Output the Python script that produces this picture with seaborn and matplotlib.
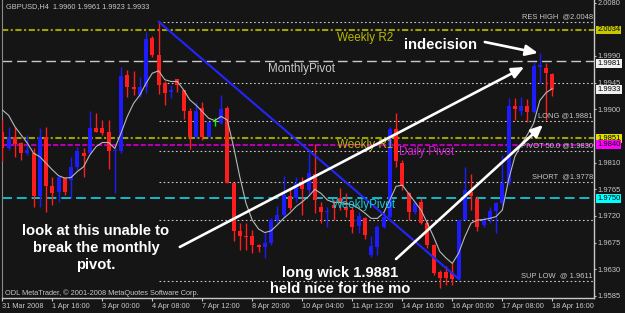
import numpy as np
import pandas as pd
import matplotlib
matplotlib.use("Agg")
import matplotlib.pyplot as plt
import matplotlib.transforms as mtransforms
import seaborn as sns

# ---------------- data ----------------
opens = [1.9861, 1.9834, 1.9853, 1.9843, 1.9827, 1.9826, 1.9753, 1.9853, 1.9770, 1.9761,
         1.9784, 1.9780, 1.9803, 1.9827, 1.9827, 1.9868, 1.9868, 1.9861, 1.9829, 1.9829,
         1.9958, 1.9938, 1.9924, 1.9938, 2.0020, 1.9992, 1.9944, 1.9929, 1.9951, 1.9932,
         1.9898, 1.9854, 1.9902, 1.9854, 1.9879, 1.9877, 1.9903, 1.9775, 1.9695, 1.9686,
         1.9686, 1.9671, 1.9667, 1.9675, 1.9713, 1.9722, 1.9753, 1.9750, 1.9776, 1.9764,
         1.9791, 1.9736, 1.9726, 1.9739, 1.9750, 1.9736, 1.9730, 1.9703, 1.9716, 1.9654,
         1.9668, 1.9702, 1.9719, 1.9866, 1.9810, 1.9758, 1.9726, 1.9744, 1.9708, 1.9671,
         1.9626, 1.9626, 1.9623, 1.9613, 1.9713, 1.9761, 1.9748, 1.9704, 1.9714, 1.9729,
         1.9742, 1.9775, 1.9905, 1.9897, 1.9905, 1.9896, 1.9972, 1.9970, 1.9960]
highs = [1.9882, 1.9870, 1.9871, 1.9845, 1.9857, 1.9834, 1.9868, 1.9871, 1.9786, 1.9786,
         1.9786, 1.9820, 1.9837, 1.9834, 1.9898, 1.9893, 1.9882, 1.9882, 1.9834, 1.9972,
         1.9966, 1.9964, 1.9955, 2.0031, 2.0023, 2.0048, 1.9947, 1.9941, 1.9952, 1.9933,
         1.9902, 1.9913, 1.9913, 1.9879, 1.9885, 1.9924, 1.9906, 1.9776, 1.9708, 1.9709,
         1.9697, 1.9673, 1.9691, 1.9716, 1.9737, 1.9788, 1.9767, 1.9786, 1.9786, 1.9826,
         1.9842, 1.9744, 1.9736, 1.9747, 1.9767, 1.9758, 1.9736, 1.9727, 1.9719, 1.9686,
         1.9705, 1.9727, 1.9871, 1.9893, 1.9815, 1.9761, 1.9744, 1.9750, 1.9711, 1.9673,
         1.9629, 1.9635, 1.9641, 1.9714, 1.9803, 1.9791, 1.9753, 1.9719, 1.9736, 1.9744,
         1.9823, 1.9919, 1.9919, 1.9920, 1.9917, 1.9980, 1.9995, 1.9978, 1.9961]
lows = [1.9812, 1.9831, 1.9820, 1.9815, 1.9823, 1.9736, 1.9736, 1.9727, 1.9739, 1.9744,
        1.9755, 1.9750, 1.9798, 1.9786, 1.9826, 1.9861, 1.9857, 1.9800, 1.9758, 1.9826,
        1.9921, 1.9924, 1.9921, 1.9927, 1.9989, 1.9926, 1.9907, 1.9919, 1.9930, 1.9883,
        1.9833, 1.9851, 1.9849, 1.9853, 1.9872, 1.9875, 1.9775, 1.9677, 1.9663, 1.9663,
        1.9657, 1.9660, 1.9649, 1.9671, 1.9708, 1.9719, 1.9730, 1.9744, 1.9722, 1.9755,
        1.9725, 1.9708, 1.9702, 1.9713, 1.9730, 1.9719, 1.9691, 1.9691, 1.9682, 1.9650,
        1.9654, 1.9699, 1.9716, 1.9803, 1.9764, 1.9713, 1.9723, 1.9707, 1.9666, 1.9621,
        1.9598, 1.9604, 1.9604, 1.9612, 1.9713, 1.9730, 1.9694, 1.9702, 1.9708, 1.9691,
        1.9739, 1.9772, 1.9882, 1.9890, 1.9879, 1.9893, 1.9944, 1.9882, 1.9923]
closes = [1.9834, 1.9853, 1.9842, 1.9826, 1.9831, 1.9754, 1.9853, 1.9770, 1.9758, 1.9785,
          1.9761, 1.9803, 1.9829, 1.9821, 1.9868, 1.9862, 1.9860, 1.9830, 1.9831, 1.9957,
          1.9937, 1.9935, 1.9938, 2.0018, 1.9992, 1.9941, 1.9928, 1.9932, 1.9941, 1.9898,
          1.9854, 1.9898, 1.9853, 1.9878, 1.9879, 1.9900, 1.9776, 1.9695, 1.9686, 1.9684,
          1.9671, 1.9668, 1.9674, 1.9713, 1.9722, 1.9756, 1.9734, 1.9776, 1.9765, 1.9792,
          1.9747, 1.9726, 1.9729, 1.9733, 1.9744, 1.9730, 1.9702, 1.9720, 1.9688, 1.9669,
          1.9702, 1.9719, 1.9866, 1.9812, 1.9771, 1.9727, 1.9742, 1.9708, 1.9671, 1.9623,
          1.9615, 1.9615, 1.9613, 1.9713, 1.9764, 1.9753, 1.9702, 1.9715, 1.9729, 1.9742,
          1.9776, 1.9906, 1.9900, 1.9906, 1.9896, 1.9973, 1.9974, 1.9961, 1.9933]
ma_values = [1.9899, 1.9890, 1.9871, 1.9857, 1.9843, 1.9826, 1.9820, 1.9809, 1.9798, 1.9788,
             1.9784, 1.9785, 1.9795, 1.9803, 1.9823, 1.9837, 1.9844, 1.9844, 1.9834, 1.9860,
             1.9888, 1.9910, 1.9924, 1.9944, 1.9961, 1.9965, 1.9950, 1.9947, 1.9947, 1.9933,
             1.9916, 1.9907, 1.9896, 1.9885, 1.9881, 1.9888, 1.9882, 1.9837, 1.9786, 1.9741,
             1.9713, 1.9698, 1.9692, 1.9695, 1.9705, 1.9716, 1.9725, 1.9736, 1.9744, 1.9753,
             1.9765, 1.9758, 1.9747, 1.9743, 1.9743, 1.9741, 1.9739, 1.9733, 1.9725, 1.9716,
             1.9716, 1.9725, 1.9747, 1.9770, 1.9772, 1.9758, 1.9744, 1.9730, 1.9708, 1.9685,
             1.9660, 1.9649, 1.9640, 1.9657, 1.9685, 1.9708, 1.9713, 1.9714, 1.9716, 1.9719,
             1.9730, 1.9781, 1.9820, 1.9840, 1.9857, 1.9876, 1.9915, 1.9928, 1.9935]

date_tick_bars = [0, 8, 16, 24, 32, 40, 48, 56, 64, 72, 80, 88]
date_labels = ["31 Mar 2008", "1 Apr 16:00", "3 Apr 00:00", "4 Apr 08:00", "7 Apr 12:00",
               "8 Apr 20:00", "10 Apr 04:00", "11 Apr 12:00", "14 Apr 16:00", "16 Apr 00:00",
               "17 Apr 08:00", "18 Apr 16:00"]
price_ticks = [2.0080, 1.9990, 1.9945, 1.9900, 1.9810, 1.9765, 1.9720, 1.9675, 1.9630, 1.9585]

fib_start_bar = 25
fib_levels = [2.0048, 1.9944, 1.9881, 1.9830, 1.9778, 1.9713, 1.9611]
fib_labels = ["RES HIGH  @2.0048", "", "LONG @1.9881", "PIVOT 50.0 @1.9830",
              "SHORT  @1.9778", "", "SUP LOW  @ 1.9611"]

weekly_r2 = 2.0034
monthly_pivot = 1.9981
weekly_r1 = 1.9851
daily_pivot = 1.9840
weekly_pivot = 1.9750
last_close = 1.9933

trend_bars = [25, 73]
trend_prices = [2.0048, 1.9614]

# ---------------- style ----------------
BG = "#151515"
FG = "#c8c8c8"
RED = "#ff1c1c"
BLUE = "#1c1cff"
GREEN = "#00ff00"
OLIVE = "#a0a000"

sns.set_style("dark", {"axes.facecolor": BG, "figure.facecolor": BG,
                       "axes.edgecolor": FG, "grid.color": BG})
plt.rcParams["font.family"] = ["Liberation Sans", "DejaVu Sans"]

fig = plt.figure(figsize=(6.25, 3.13), dpi=100, facecolor=BG)
ax = fig.add_axes([2 / 625, 15 / 313, 592 / 625, 298 / 313])
ax.set_facecolor(BG)

n = len(opens)
df = pd.DataFrame({"bar": np.arange(n), "open": opens, "high": highs,
                   "low": lows, "close": closes, "ma": ma_values})
up = df["close"] > df["open"]
down = df["close"] < df["open"]
colors = np.where(up, BLUE, np.where(down, RED, GREEN))

# wicks and bodies
ax.vlines(df["bar"], df["low"], df["high"], colors=colors, lw=1.0, zorder=3)
body_bottom = np.minimum(df["open"], df["close"])
body_h = np.maximum((df["close"] - df["open"]).abs(), 0.00009)
ax.bar(df["bar"], body_h, bottom=body_bottom, width=0.64, color=colors,
       linewidth=0, zorder=4)

# moving average
sns.lineplot(x=df["bar"], y=df["ma"], ax=ax, color="#b8b8b8", lw=0.8,
             legend=False, zorder=5)

# horizontal levels
ax.axhline(weekly_r2, color=OLIVE, lw=1.5, ls=(0, (3, 1.2, 1, 1.2)), zorder=2)
ax.axhline(weekly_r1, color=OLIVE, lw=1.5, ls=(0, (3, 1.2, 1, 1.2)), zorder=2)
ax.axhline(daily_pivot, color="#b000b0", lw=1.5, ls=(0, (2.5, 1)), zorder=2)
ax.axhline(monthly_pivot, color=FG, lw=1.0, ls=(0, (7, 3.5)), zorder=2)
ax.axhline(weekly_pivot, color="#10c8d8", lw=1.3, ls=(0, (5.5, 2.7)), zorder=2)

xmax = 94.67
ax.hlines(fib_levels, fib_start_bar, xmax, colors=FG, lw=0.8,
          linestyles=[(0, (1.5, 2.2))], zorder=2)
yblend = mtransforms.blended_transform_factory(ax.transAxes, ax.transData)
for lvl, lab in zip(fib_levels, fib_labels):
    if lab:
        ax.text(0.998, lvl + 0.00022, lab, transform=yblend, ha="right", va="bottom",
                fontsize=5.4, color=FG, zorder=6)

# trend line
ax.plot(trend_bars, trend_prices, color="#2424ff", lw=1.5, zorder=6)

# level names
ax.text(53.5, 2.0020, "Weekly R2", color="#b8b800", fontsize=8.4, va="center", zorder=6)
ax.text(42.5, 1.99681, "MonthlyPivot", color=FG, fontsize=8.4, va="center", zorder=6)
ax.text(53.5, 1.98390, "Weekly R1", color="#b8b800", fontsize=8.4, va="center", zorder=6)
ax.text(63.5, 1.98280, "Daily Pivot", color="#d020d0", fontsize=8.4, va="center", zorder=6)
ax.text(52.75, 1.97386, "WeeklyPivot", color="#18c8d8", fontsize=8.4, va="center", zorder=6)

# user annotations
ann_kw = dict(color="white", fontsize=10.6, fontweight="bold", zorder=8)
ax.text(64.3, 2.00086, "indecision", ha="left", va="center", **ann_kw)
ax.text(15.0, 1.96660, "look at this unable to\nbreak the monthly\npivot.",
        ha="center", va="center", linespacing=1.3, **ann_kw)
ax.text(54.0, 1.96103, "long wick 1.9881\nheld nice for the mo",
        ha="center", va="center", linespacing=1.25, **ann_kw)

arrow_kw = dict(arrowstyle="-|>,head_length=0.9,head_width=0.4", color="white",
                lw=1.9, shrinkA=0, shrinkB=0, mutation_scale=8)
ax.annotate("", xy=(83.5, 1.99714), xytext=(28.4, 1.96677), arrowprops=arrow_kw, zorder=8)
ax.annotate("", xy=(86.5, 1.98736), xytext=(63.0, 1.96474), arrowprops=arrow_kw, zorder=8)
ax.annotate("", xy=(85.7, 1.99951), xytext=(77.2, 2.00136), arrowprops=arrow_kw, zorder=8)

# axes limits / ticks
ax.set_xlim(-0.05, xmax)
ax.set_ylim(1.95816, 2.00845)
ax.yaxis.tick_right()
ax.set_yticks(price_ticks)
ax.set_yticklabels([f"{t:.4f}" for t in price_ticks])
ax.set_xticks(date_tick_bars)
ax.set_xticklabels(date_labels)
for lab in ax.get_xticklabels():
    lab.set_ha("left")
ax.tick_params(axis="x", colors=FG, labelsize=5.3, length=2.2, width=0.8,
               direction="out", pad=1.2, bottom=True)
ax.tick_params(axis="y", colors=FG, labelsize=5.4, length=1.6, width=0.8,
               direction="out", pad=0.7, right=True, left=False)
ax.set_xlabel("")
ax.set_ylabel("")
ax.grid(False)
for side in ["right", "bottom"]:
    ax.spines[side].set_color(FG)
    ax.spines[side].set_linewidth(1.0)
ax.spines["left"].set_color("#8a8a8a")
ax.spines["left"].set_linewidth(0.8)
ax.spines["top"].set_visible(False)

# price boxes on the right scale (the monthly box sits a touch below its level, as in MT4)
boxes = [(weekly_r2, "#c8c800", 0), (monthly_pivot, "#f0f0f0", -2.0),
         (last_close, "#f0f0f0", 0), (weekly_r1, "#e0e000", 0),
         (daily_pivot, "#ff00ff", 0), (weekly_pivot, "#00ffff", 0)]
for val, fc, dy in boxes:
    tr = yblend + mtransforms.ScaledTranslation(0, dy / 100, fig.dpi_scale_trans)
    ax.text(1.0055, val, f"{val:.4f}", transform=tr, ha="left", va="center",
            fontsize=5.5, color="black", clip_on=False, zorder=10,
            bbox=dict(boxstyle="square,pad=0.12", fc=fc, ec="none"))

# header and footer texts
ax.text(0.0068, 0.977, "GBPUSD,H4  1.9960 1.9961 1.9923 1.9933", transform=ax.transAxes,
        ha="left", va="center", fontsize=5.3, color=FG, zorder=9)
ax.text(0.005, 0.017, "ODL MetaTrader, \u00a9 2001-2008 MetaQuotes Software Corp.",
        transform=ax.transAxes, ha="left", va="center", fontsize=5.3, color=FG, zorder=9)

fig.savefig("out.png", dpi=100, facecolor=BG)
